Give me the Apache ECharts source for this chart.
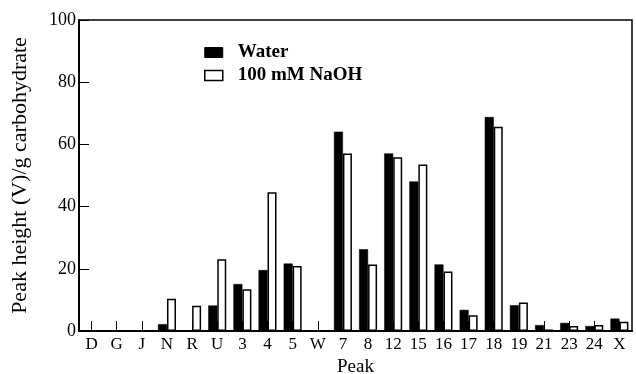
<!DOCTYPE html>
<html>
<head>
<meta charset="utf-8">
<script src="https://cdn.jsdelivr.net/npm/echarts@6/dist/echarts.min.js"></script>
<style>
  html, body { margin: 0; padding: 0; background: #fff; }
  #chart { width: 636px; height: 374px; }
</style>
</head>
<body>
<div id="chart"></div>
<script>
// Peak labels along the x axis
const peaks = ['D', 'G', 'J', 'N', 'R', 'U', '3', '4', '5', 'W', '7', '8', '12', '15', '16', '17', '18', '19', '21', '23', '24', 'X'];
// Peak height (V)/g carbohydrate, water extract
const waterValues = [0, 0, 0, 2.2, 0, 8.2, 15.1, 19.6, 21.7, 0, 64.1, 26.3, 57.1, 48.1, 21.4, 6.8, 68.8, 8.3, 1.9, 2.6, 1.6, 4.0];
// Peak height (V)/g carbohydrate, 100 mM NaOH extract
const naohValues = [0, 0, 0, 10.4, 8.1, 23.1, 13.4, 44.6, 20.9, 0, 57.1, 21.4, 55.9, 53.5, 19.1, 5.1, 65.7, 9.2, 0.5, 1.6, 1.9, 3.0];
// Value axis ticks
const yTicks = [0, 20, 40, 60, 80, 100];

const font = 'Liberation Serif';
const chart = echarts.init(document.getElementById('chart'), null, { renderer: 'canvas' });

chart.setOption({
  animation: false,
  backgroundColor: '#fff',
  textStyle: { fontFamily: font, color: '#000' },
  grid: {
    left: 79, right: 4, top: 20, bottom: 43,
    outerBoundsMode: 'none', containLabel: false,
    show: true, borderColor: '#000', borderWidth: 1.5, backgroundColor: 'transparent'
  },
  legend: {
    left: 199, top: 38, orient: 'vertical', itemGap: 4,
    itemWidth: 18, itemHeight: 10, selectedMode: false,
    textStyle: { fontFamily: font, fontSize: 19, fontWeight: 'bold', color: '#000', padding: [0, 0, 0, 10] },
    data: [
      { name: 'Water', icon: 'rect', itemStyle: { color: '#000', borderColor: '#000', borderWidth: 1 } },
      { name: '100 mM NaOH', icon: 'rect', itemStyle: { color: '#fff', borderColor: '#000', borderWidth: 1.5 } }
    ]
  },
  xAxis: {
    type: 'category',
    data: peaks,
    name: 'Peak',
    nameLocation: 'middle',
    nameGap: 27,
    nameTextStyle: { fontFamily: font, fontSize: 19, color: '#000' },
    axisLine: { lineStyle: { color: '#000', width: 2 } },
    axisTick: { show: true, inside: true, alignWithLabel: true, length: 10, lineStyle: { color: '#000', width: 1 } },
    axisLabel: { fontFamily: font, fontSize: 17, color: '#000', margin: 5, interval: 0 },
    splitLine: { show: false }
  },
  yAxis: {
    type: 'value',
    min: yTicks[0],
    max: yTicks[yTicks.length - 1],
    interval: 20,
    name: 'Peak height (V)/g carbohydrate',
    nameLocation: 'middle',
    nameGap: 48,
    nameTextStyle: { fontFamily: font, fontSize: 22, color: '#000' },
    axisLine: { show: true, lineStyle: { color: '#000', width: 2 } },
    axisTick: { show: true, inside: true, length: 10, lineStyle: { color: '#000', width: 1 } },
    axisLabel: { fontFamily: font, fontSize: 18, color: '#000', margin: 3 },
    splitLine: { show: false }
  },
  series: [
    {
      name: 'Water',
      type: 'bar',
      data: waterValues,
      barWidth: 9,
      barGap: '0%',
      itemStyle: { color: '#000', borderColor: '#000', borderWidth: 0.5 }
    },
    {
      name: '100 mM NaOH',
      type: 'bar',
      data: naohValues,
      barWidth: 9,
      itemStyle: { color: '#fff', borderColor: '#000', borderWidth: 1.5 }
    }
  ]
});
</script>
</body>
</html>
